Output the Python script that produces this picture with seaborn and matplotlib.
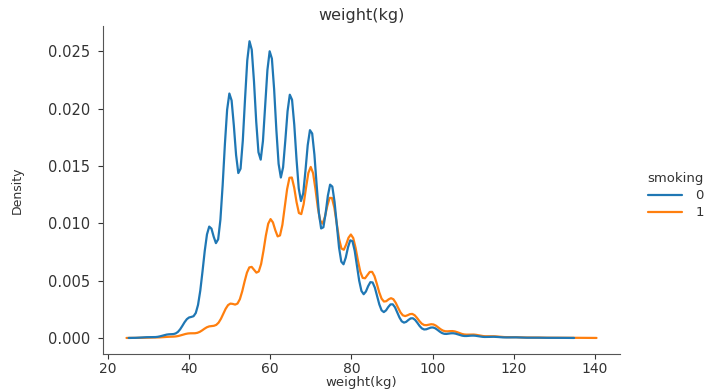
import numpy as np
import pandas as pd
import matplotlib
matplotlib.use("Agg")
import matplotlib.pyplot as plt
import seaborn as sns

# weight values (kg) present in the data and counts
weight_kg = [30, 35, 40, 45, 50, 55, 60, 65, 70, 75, 80, 85, 90, 95, 100,
             105, 110, 115, 120, 125, 130, 135]
count_nonsmoker = [15, 69, 390, 2190, 4840, 5870, 5670, 4810, 4120, 3040, 1935,
                   1105, 668, 390, 207, 92, 46, 23, 12, 6, 3, 0]
count_smoker = [5, 24, 96, 240, 720, 1510, 2530, 3460, 3660, 3010, 2200,
                1410, 840, 510, 290, 144, 72, 36, 17, 10, 5, 3]
smoking_levels = ["0", "1"]

# rebuild the individual observations from the counts
frames = []
for lvl, counts in zip(smoking_levels, [count_nonsmoker, count_smoker]):
    obs = np.repeat(np.array(weight_kg, dtype=float), counts)
    frames.append(pd.DataFrame({"weight(kg)": obs, "smoking": lvl}))
df = pd.concat(frames, ignore_index=True)

sns.set_style("ticks")
plt.rcParams["font.family"] = ["DejaVu Sans"]

fig = plt.figure(figsize=(7.22, 3.91), dpi=100)
ax = fig.add_axes([103 / 722, 1 - 354 / 391, 517 / 722, 328 / 391])

sns.kdeplot(data=df, x="weight(kg)", hue="smoking",
            hue_order=smoking_levels, palette=["#1f77b4", "#ff7f0e"],
            bw_method="scott", bw_adjust=1.06, linewidth=1.6, ax=ax)

sns.despine(ax=ax)
ax.set_xticks([20, 40, 60, 80, 100, 120, 140])
ax.set_yticks([0.0, 0.005, 0.010, 0.015, 0.020, 0.025])
ax.set_ylim(-0.0014, 0.0272)
ax.tick_params(axis="y", labelsize=10.5, colors="#333333", pad=6)
ax.tick_params(axis="x", labelsize=10, colors="#333333", pad=2)
for sp in ax.spines.values():
    sp.set_color("#555555")
ax.set_xlabel("weight(kg)", fontsize=9.5, labelpad=0, color="#333333")
ax.set_ylabel("Density", fontsize=9, color="#333333")
ax.yaxis.set_label_coords(-0.153, 0.5)
ax.set_title("weight(kg)", fontsize=11.5, pad=4, color="#333333")

sns.move_legend(ax, "upper left", bbox_to_anchor=(1.03, 0.59), frameon=False,
                fontsize=9.5, title_fontsize=9.5, handlelength=2.6,
                labelspacing=0.3, handletextpad=1.0, labelcolor="#333333")
ax.get_legend().get_title().set_color("#333333")

fig.savefig("out.png", dpi=100)
